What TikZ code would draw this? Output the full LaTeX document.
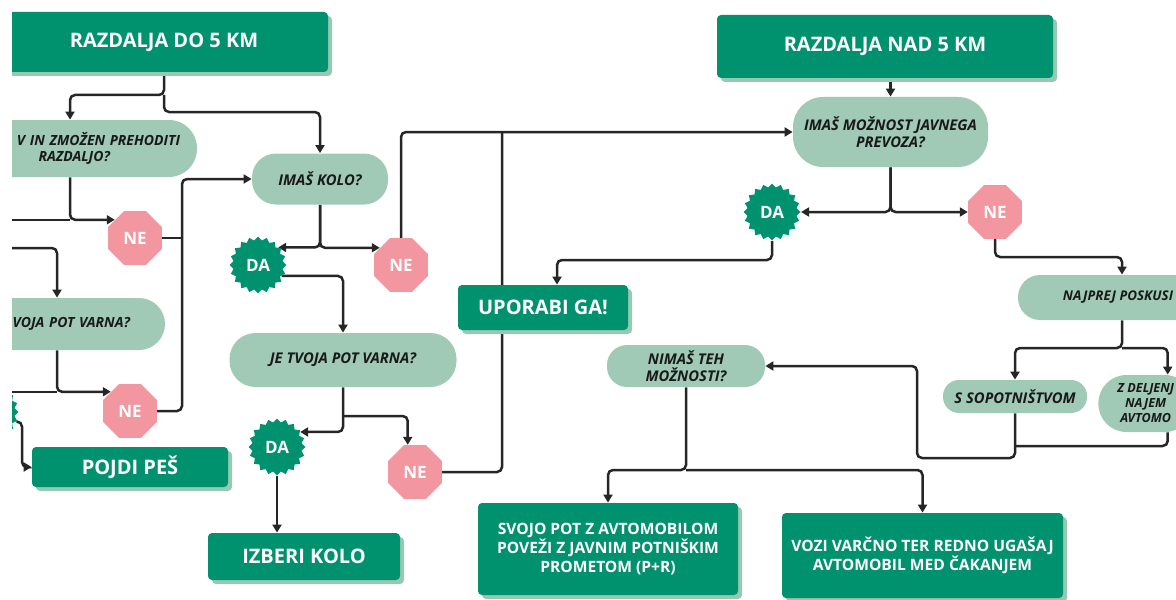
\documentclass[tikz,border=0pt]{standalone}
\usepackage{fontspec}
\setmainfont{Open Sans}
\usetikzlibrary{shapes.geometric,shadows,backgrounds,arrows.meta}

\begin{document}
\begin{tikzpicture}[x=0.5pt,y=-0.5pt,
	skatla/.style={rectangle, rounded corners=2pt, fill=temnozelena, text=white, inner sep=0pt, align=center,
		font=\fontsize{10}{12}\selectfont\bfseries,
		drop shadow={shadow xshift=2pt, shadow yshift=-2pt, fill=senca, opacity=1}},
	mala/.style={skatla, font=\fontsize{7.8}{9.6}\selectfont\bfseries},
	vprasanje/.style={rectangle, rounded corners=12pt, fill=svetlozelena, text=black!90, inner sep=0pt, align=center,
		font=\fontsize{7.4}{8.3}\selectfont\bfseries\itshape},
	ne/.style={regular polygon, regular polygon sides=8, minimum size=29pt, inner sep=0pt, fill=roza, text=white,
		font=\fontsize{8.5}{10}\selectfont\bfseries},
	da/.style={star, star points=20, star point ratio=1.15, minimum size=28.5pt, inner sep=0pt, fill=temnozelena, text=white,
		font=\fontsize{8.5}{10}\selectfont\bfseries},
	povezava/.style={draw=black!85, line width=1.25pt, rounded corners=2.5pt},
	pusc/.style={povezava, -{Triangle[length=4pt,width=4.5pt]}}]
	%%% Barve
	\definecolor{temnozelena}{RGB}{0,145,110}
	\definecolor{senca}{RGB}{150,200,178}
	\definecolor{svetlozelena}{RGB}{160,202,182}
	\definecolor{roza}{RGB}{242,150,160}

	\useasboundingbox (0,0) rectangle (1176,599);
	\clip (12,0) rectangle (1176,599);

	%%% Razdalja do 5 km
	\node[skatla, minimum width=164pt, minimum height=30pt] (razdo) at (164,42) {RAZDALJA DO 5 KM};
	\node[vprasanje, minimum height=28.5pt, rounded corners=14pt, text width=110pt, inner xsep=8.5pt, align=right,
		font=\fontsize{7}{8.3}\selectfont\bfseries\itshape] (zdrav) at (70,148.5)
		{V IN ZMOŽEN PREHODITI\\RAZDALJO?\hspace*{35pt}};
	\node[vprasanje, minimum width=68pt, minimum height=25.5pt] (kolo) at (320,179) {IMAŠ KOLO?};
	\node[ne] (ne1) at (135,238) {NE};
	\node[vprasanje, minimum height=26pt, rounded corners=13pt, text width=73pt, inner xsep=17.5pt, align=right,
		font=\fontsize{7}{8.3}\selectfont\bfseries\itshape] (varna1) at (57,324) {VOJA POT VARNA?};
	\node[ne] (ne2) at (130,411) {NE};
	\node[da] (da0) at (-10,412) {};
	\node[skatla, minimum width=98pt, minimum height=20pt] (pojdi) at (130,467) {POJDI PEŠ};
	\node[da] (da1) at (258,265) {DA};
	\node[ne] (ne3) at (401,265) {NE};
	\node[vprasanje, minimum width=113.5pt, minimum height=27pt, rounded corners=13pt] (varna2) at (343,360) {JE TVOJA POT VARNA?};
	\node[da] (da2) at (277,447) {DA};
	\node[ne] (ne4) at (415,472) {NE};
	\node[skatla, minimum width=96pt, minimum height=23.5pt] (izberi) at (304,556.5) {IZBERI KOLO};

	%%% Razdalja nad 5 km
	\node[skatla, minimum width=168pt, minimum height=31.5pt] (raznad) at (885,46.5) {RAZDALJA NAD 5 KM};
	\node[vprasanje, minimum width=97.5pt, minimum height=35pt, rounded corners=15pt] (javni) at (890.5,132)
		{IMAŠ MOŽNOST JAVNEGA\\PREVOZA?};
	\node[da] (da3) at (772,212) {DA};
	\node[ne] (ne5) at (995,212) {NE};
	\node[skatla, minimum width=85pt, minimum height=22.5pt] (uporabi) at (543,307.5) {UPORABI GA!};
	\node[vprasanje, minimum width=100pt, minimum height=22.5pt, rounded corners=11pt,
		font=\fontsize{6.7}{8}\selectfont\bfseries\itshape] (najprej) at (1118,297.5) {NAJPREJ POSKUSI};
	\node[vprasanje, minimum width=72pt, minimum height=16.5pt, rounded corners=8pt] (sopot) at (1015,396.5) {S SOPOTNIŠTVOM};
	\node[vprasanje, anchor=west, minimum height=28.5pt, rounded corners=14pt, inner xsep=9.5pt,
		font=\fontsize{6.3}{7.5}\selectfont\bfseries\itshape] (zdelj) at (1098,403.5) {Z DELJENJ\\NAJEM\\AVTOMO};
	\node[vprasanje, minimum width=79pt, minimum height=21pt, rounded corners=10pt] (nimas) at (686,366) {NIMAŠ TEH\\MOŽNOSTI?};
	\node[mala, minimum width=130pt, minimum height=46pt] (svojo) at (608,549)
		{SVOJO POT Z AVTOMOBILOM\\POVEŽI Z JAVNIM POTNIŠKIM\\PROMETOM (P+R)};
	\node[mala, minimum width=140.5pt, minimum height=42.5pt] (vozi) at (922.5,555.5)
		{VOZI VARČNO TER REDNO UGAŠAJ\\AVTOMOBIL MED ČAKANJEM};

	%%% Pomozne tocke
	\coordinate (rob) at (12,0);
	\coordinate (vh) at (12,248);
	\coordinate (r1) at (164,95);
	\coordinate (r2) at (164,112);
	\coordinate (v1) at (182,0);
	\coordinate (v2) at (502,0);
	\coordinate (p1) at (22,440);
	\coordinate (j7) at (343,416);
	\coordinate (j11) at (772,260);
	\coordinate (j12) at (995,257);
	\coordinate (j13) at (1122,348);
	\coordinate (j14) at (917,458);
	\coordinate (j14b) at (1015,446);
	\coordinate (j15) at (686,470);

	%%% Povezave
	\begin{pgfonlayer}{background}
		\draw[pusc] (razdo.south) -- (r1) -| (zdrav.north);
		\draw[pusc] (r1) -- (r2) -| (kolo.north);
		\draw[pusc] (zdrav.south) |- (ne1.138);
		\draw[povezava] (zdrav.south |- ne1.138) -- (rob |- ne1.138);
		\draw[povezava] (ne1.east) -- (ne1.east -| v1);
		\draw[pusc] (ne2.east) -| (kolo.west -| v1) -- (kolo.west);
		\draw[pusc] (vh) -| (varna1.north);
		\draw[pusc] (varna1.south) |- (ne2.135);
		\draw[povezava] (varna1.south |- ne2.135) -- (rob |- ne2.135);
		\draw[pusc] (da0.-20) -| (p1) |- (pojdi.west);

		\draw[pusc] (kolo.south) |- (da1.41);
		\draw[pusc] (kolo.south) |- (ne3.141);
		\draw[pusc] (ne3.north) |- (javni.west);
		\draw[povezava] (ne4.east) -| (javni.west -| v2);
		\draw[pusc] (da1.-25) -| (varna2.north);
		\draw[pusc] (varna2.south) |- (da2.33);
		\draw[pusc] (j7) -| (ne4.105);
		\draw[pusc] (da2.south) -- (da2.south |- izberi.north);

		\draw[pusc] (raznad.south -| javni.north) -- (javni.north);
		\draw[pusc] (javni.south) |- (da3.east);
		\draw[pusc] (javni.south) |- (ne5.west);
		\draw[pusc] (da3.south) -- (j11) -| ([xshift=7pt]uporabi.north);
		\draw[pusc] (ne5.south) -- (j12) -| ([xshift=2pt]najprej.north);
		\draw[pusc] ([xshift=2pt]najprej.south) -- (j13) -| (sopot.north);
		\draw[pusc] (j13) -| ([xshift=11pt]zdelj.north);
		\draw[povezava] ([xshift=11pt]zdelj.south) |- (j14b);
		\draw[pusc] (sopot.south) |- (j14) |- (nimas.east);
		\draw[pusc] (nimas.south) -- (j15) -| (svojo.north);
		\draw[pusc] (j15) -| (vozi.north);
	\end{pgfonlayer}
\end{tikzpicture}
\end{document}
